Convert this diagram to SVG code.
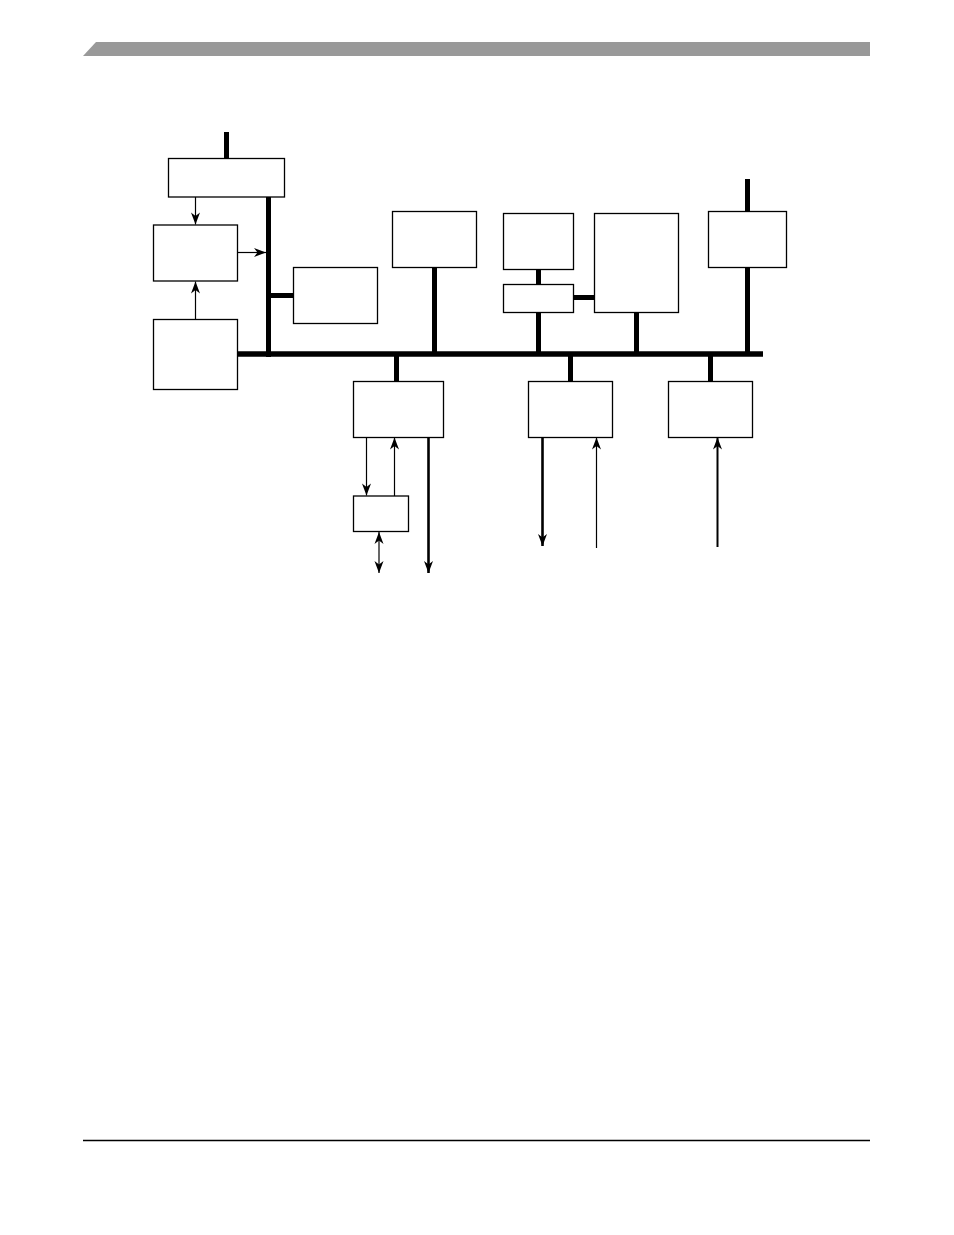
<svg xmlns="http://www.w3.org/2000/svg" width="954" height="1235" viewBox="0 0 954 1235">
<style>
.box{fill:#fff;stroke:#000;stroke-width:1.3}
.bus{stroke:#000;stroke-width:5.5;fill:none}
.stub{stroke:#000;stroke-width:5;fill:none}
.thin{stroke:#000;stroke-width:1.2;fill:none}
.med{stroke:#000;stroke-width:2;fill:none}
.thick{stroke:#000;stroke-width:2.6;fill:none}
</style>
<defs>
<marker id="ah" markerUnits="userSpaceOnUse" markerWidth="14" markerHeight="10" viewBox="-12 -5 13 10" refX="0" refY="0" orient="auto">
<path d="M0,0 L-12,-4.5 L-8.5,0 L-12,4.5 Z" fill="#000"/>
</marker>
<marker id="ahs" markerUnits="userSpaceOnUse" markerWidth="14" markerHeight="10" viewBox="-12 -5 13 10" refX="0" refY="0" orient="auto-start-reverse">
<path d="M0,0 L-12,-4.5 L-8.5,0 L-12,4.5 Z" fill="#000"/>
</marker>
</defs>
<rect width="954" height="1235" fill="#fff"/>
<g id="page">
<polygon points="83,56 96,42 870,42 870,56" fill="#999"/>
<line x1="83" y1="1140.5" x2="870" y2="1140.5" stroke="#000" stroke-width="1.3"/>
</g>
<g id="connectors">
<line class="bus" x1="237" y1="354" x2="763" y2="354"/>
<line class="stub" x1="268.5" y1="197" x2="268.5" y2="357"/>
<line class="stub" x1="226.5" y1="132" x2="226.5" y2="158"/>
<line class="stub" x1="268.5" y1="295.5" x2="293" y2="295.5"/>
<line class="stub" x1="434.5" y1="267" x2="434.5" y2="354"/>
<line class="stub" x1="538.5" y1="269" x2="538.5" y2="284"/>
<line class="stub" x1="538.5" y1="312" x2="538.5" y2="354"/>
<line class="stub" x1="573" y1="297.5" x2="594" y2="297.5"/>
<line class="stub" x1="636.5" y1="312" x2="636.5" y2="354"/>
<line class="stub" x1="747.5" y1="179" x2="747.5" y2="211"/>
<line class="stub" x1="747.5" y1="267" x2="747.5" y2="354"/>
<line class="stub" x1="396.5" y1="354" x2="396.5" y2="381"/>
<line class="stub" x1="570.5" y1="354" x2="570.5" y2="381"/>
<line class="stub" x1="710.5" y1="354" x2="710.5" y2="381"/>
<line class="thin" x1="195.5" y1="197" x2="195.5" y2="224.5" marker-end="url(#ah)"/>
<line class="thin" x1="195.5" y1="319" x2="195.5" y2="281.5" marker-end="url(#ah)"/>
<line class="thin" x1="237" y1="252.5" x2="266" y2="252.5" marker-end="url(#ah)"/>
<line class="thin" x1="366.5" y1="437" x2="366.5" y2="495.5" marker-end="url(#ah)"/>
<line class="thin" x1="394.5" y1="496" x2="394.5" y2="437.5" marker-end="url(#ah)"/>
<line class="thin" x1="379" y1="532" x2="379" y2="573" marker-start="url(#ahs)" marker-end="url(#ah)"/>
<line class="thick" x1="428.5" y1="437" x2="428.5" y2="573" marker-end="url(#ah)"/>
<line class="thick" x1="542.5" y1="437" x2="542.5" y2="546" marker-end="url(#ah)"/>
<line class="thin" x1="596.5" y1="548" x2="596.5" y2="437.5" marker-end="url(#ah)"/>
<line class="med" x1="717.5" y1="547" x2="717.5" y2="437.5" marker-end="url(#ah)"/>
</g>
<g id="n-top"><rect class="box" x="168.5" y="158.5" width="116" height="38.5"/></g>
<g id="n-left-mid"><rect class="box" x="153.5" y="225" width="84" height="56"/></g>
<g id="n-left-bot"><rect class="box" x="153.5" y="319.5" width="84" height="70"/></g>
<g id="n-side"><rect class="box" x="293.5" y="267.5" width="84" height="56"/></g>
<g id="n-upper1"><rect class="box" x="392.5" y="211.5" width="84" height="56"/></g>
<g id="n-upper2"><rect class="box" x="503.5" y="213.5" width="70" height="56"/></g>
<g id="n-upper2b"><rect class="box" x="503.5" y="284.5" width="70" height="28"/></g>
<g id="n-upper3"><rect class="box" x="594.5" y="213.5" width="84" height="99"/></g>
<g id="n-upper4"><rect class="box" x="708.5" y="211.5" width="78" height="56"/></g>
<g id="n-lower1"><rect class="box" x="353.5" y="381.5" width="90" height="56"/></g>
<g id="n-lower1b"><rect class="box" x="353.5" y="496" width="55" height="35.5"/></g>
<g id="n-lower2"><rect class="box" x="528.5" y="381.5" width="84" height="56"/></g>
<g id="n-lower3"><rect class="box" x="668.5" y="381.5" width="84" height="56"/></g>
</svg>
